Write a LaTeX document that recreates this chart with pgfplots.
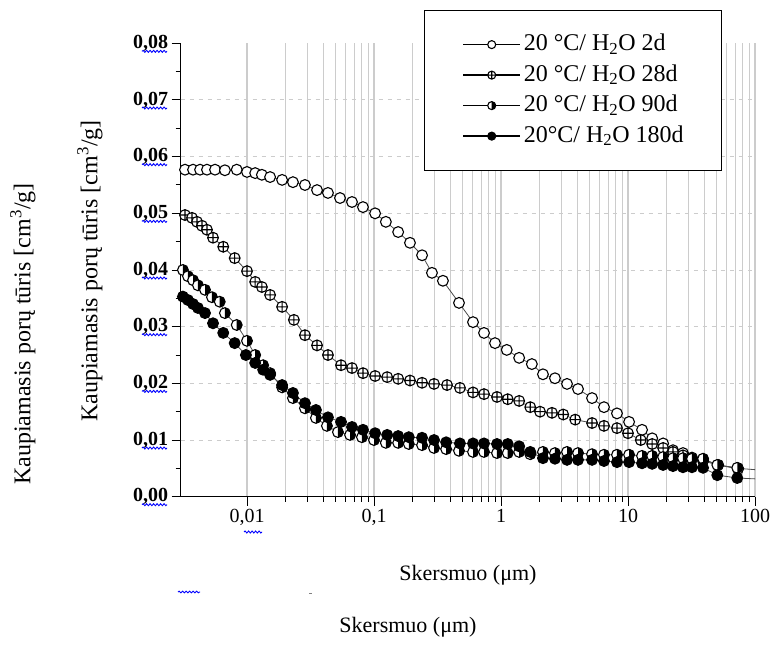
\documentclass[border=0pt]{standalone}
\usepackage{fontspec}
\setmainfont{Liberation Serif}
\usepackage{pgfplots}
\pgfplotsset{compat=1.18}
\usetikzlibrary{decorations.pathmorphing}

\pgfdeclareplotmark{halfright}{%
  \begin{pgfscope}
  \pgfsetfillcolor{white}
  \pgfpathcircle{\pgfpointorigin}{\pgfplotmarksize}\pgfusepath{fill}
  \pgfsetfillcolor{black}
  \pgfpathmoveto{\pgfpoint{0pt}{\pgfplotmarksize}}
  \pgfpatharc{90}{-90}{\pgfplotmarksize}
  \pgfpathclose
  \pgfusepath{fill}
  \end{pgfscope}
  \pgfpathcircle{\pgfpointorigin}{\pgfplotmarksize}\pgfusepath{stroke}
}

\begin{document}
\begin{tikzpicture}[x=1pt,y=1pt]
\useasboundingbox (0,0) rectangle (771,649);
\begin{axis}[
  at={(180.6pt,152.3pt)}, anchor=south west,
  scale only axis, width=574.4pt, height=453.4pt,
  xmode=log, xmin=0.003, xmax=100, ymin=0, ymax=0.08,
  scaled y ticks=false,
  axis x line*=bottom, axis y line*=left,
  axis line style={-, line width=1.3pt},
  tick align=outside,
  major tick length=9pt, minor tick length=5pt,
  every tick/.style={black, line width=1pt},
  xtick={0.01,0.1,1,10,100},
  xticklabels={{0,01},{0,1},1,10,100},
  ytick={0,0.01,0.02,0.03,0.04,0.05,0.06,0.07,0.08},
  yticklabels={{0,00},{0,01},{0,02},{0,03},{0,04},{0,05},{0,06},{0,07},{0,08}},
  minor y tick num=1,
  xminorgrids=true, xmajorgrids=true,
  minor x grid style={gray!40, line width=1.2pt},
  major x grid style={gray!40, line width=1.2pt},
  extra y ticks={0.01,0.02,0.03,0.04,0.05,0.06,0.07},
  extra y tick labels={},
  extra y tick style={ymajorgrids=true, major tick length=0pt, major grid style={gray!40, line width=1pt, dash pattern=on 4pt off 5pt}},
  x tick label style={font=\fontsize{20}{20}\selectfont},
  y tick label style={font=\bfseries\fontsize{20}{20}\selectfont},
  legend style={at={(axis description cs:0.4237,1.0734)}, anchor=north west,
    draw=black, line width=1.2pt, fill=white, inner xsep=38pt, inner ysep=22pt,
    row sep=6.5pt, column sep=3pt,
    font=\fontsize{24}{24}\selectfont,
    nodes={inner sep=0pt, text height=18pt, text depth=6pt}},
  legend cell align=left,
  legend image code/.code={\draw[mark repeat=2,mark phase=2,#1,black,line width=1.3pt,mark size=4pt] plot coordinates {(0pt,0pt) (28.5pt,0pt) (57pt,0pt)};},
]
\addplot[black!70, line width=0.8pt, mark size=5.4pt, mark=*, mark options={draw=black, fill=white, line width=1.1pt}] coordinates {
(0.00325,0.0577)(0.00376,0.0577)(0.00427,0.0577)(0.00484,0.0577)(0.0056,0.0577)
(0.0067,0.0576)(0.0083,0.0577)(0.0100,0.0573)(0.0116,0.0571)(0.0131,0.0568)
(0.0152,0.0564)(0.0189,0.0559)(0.0230,0.0555)(0.0286,0.0550)(0.0356,0.0541)
(0.0434,0.0536)(0.0540,0.0527)(0.0671,0.0520)(0.0819,0.0511)(0.102,0.0500)
(0.124,0.0485)(0.155,0.0467)(0.192,0.0448)(0.239,0.0426)(0.286,0.0395)
(0.349,0.0381)(0.467,0.0342)(0.602,0.0308)(0.735,0.0289)(0.897,0.0271)
(1.11,0.0259)(1.39,0.0245)(1.75,0.0234)(2.14,0.0216)(2.66,0.0209)
(3.31,0.0199)(4.04,0.0190)(5.21,0.0174)(6.47,0.0158)(8.19,0.0147)
(10.2,0.0132)(12.9,0.0118)(15.5,0.0103)(18.9,0.0094)(22.6,0.0082)
(27.1,0.0077)(31.9,0.0069)(39.0,0.0066)(51.2,0.0056)(73.5,0.0050)};
\addlegendentry{\makebox[160pt][l]{20 °C/ H\textsubscript{2}O 2d}}
\addplot[black!70, line width=0.8pt, mark size=5.4pt, mark=oplus*, mark options={draw=black, fill=white, line width=1.1pt}] coordinates {
(0.00325,0.0497)(0.00369,0.0492)(0.00404,0.0485)(0.00442,0.0478)(0.00484,0.0471)
(0.0054,0.0457)(0.0065,0.0441)(0.0080,0.0421)(0.0100,0.0398)(0.0116,0.0379)
(0.0131,0.0370)(0.0152,0.0356)(0.0189,0.0335)(0.0234,0.0312)(0.0286,0.0285)
(0.0356,0.0267)(0.0434,0.0250)(0.0550,0.0232)(0.0671,0.0227)(0.0819,0.0218)
(0.102,0.0213)(0.127,0.0211)(0.155,0.0208)(0.192,0.0205)(0.239,0.0201)
(0.297,0.0199)(0.376,0.0197)(0.475,0.0192)(0.602,0.0184)(0.735,0.0181)
(0.93,0.0176)(1.13,0.0172)(1.39,0.0169)(1.70,0.0158)(2.03,0.0150)
(2.52,0.0148)(3.09,0.0145)(3.84,0.0136)(5.21,0.0130)(6.47,0.0125)
(8.19,0.0121)(10.0,0.0112)(12.6,0.0100)(15.5,0.0093)(18.9,0.0086)
(22.6,0.0079)(27.1,0.0073)(31.9,0.0067)(39.0,0.0063)(51.2,0.0056)(73.5,0.0049)};
\addlegendentry{\makebox[160pt][l]{20 °C/ H\textsubscript{2}O 28d}}
\addplot[black!70, line width=0.8pt, mark size=5.4pt, mark=halfright, mark options={draw=black, line width=1.1pt}] coordinates {
(0.00313,0.0400)(0.00343,0.0389)(0.00376,0.0382)(0.00411,0.0373)(0.00467,0.0365)
(0.0053,0.0352)(0.0061,0.0344)(0.0067,0.0324)(0.0083,0.0303)(0.0100,0.0275)
(0.0116,0.0250)(0.0134,0.0232)(0.0152,0.0218)(0.0189,0.0193)(0.0230,0.0174)
(0.0286,0.0156)(0.0349,0.0139)(0.0426,0.0125)(0.0520,0.0114)(0.0648,0.0109)
(0.0804,0.0105)(0.100,0.0100)(0.124,0.0095)(0.155,0.0095)(0.188,0.0093)
(0.239,0.0091)(0.297,0.0086)(0.370,0.0084)(0.467,0.0081)(0.602,0.0079)
(0.735,0.0079)(0.93,0.0077)(1.13,0.0077)(1.39,0.0079)(1.70,0.0075)
(2.14,0.0079)(2.66,0.0077)(3.31,0.0079)(4.04,0.0077)(5.21,0.0075)
(6.47,0.0074)(8.19,0.0074)(10.2,0.0074)(12.9,0.0072)(15.5,0.0072)
(18.9,0.0070)(22.6,0.0068)(27.1,0.0068)(31.9,0.0067)(39.0,0.0067)
(50.5,0.0056)(72.5,0.0051)};
\addlegendentry{\makebox[160pt][l]{20 °C/ H\textsubscript{2}O 90d}}
\addplot[black!70, line width=0.8pt, mark size=5.4pt, mark=*, mark options={draw=black, fill=black, line width=1.1pt}] coordinates {
(0.00313,0.0353)(0.00343,0.0347)(0.00376,0.0340)(0.00411,0.0333)(0.00467,0.0324)
(0.0054,0.0306)(0.0065,0.0289)(0.0080,0.0271)(0.0098,0.0250)(0.0116,0.0236)
(0.0134,0.0224)(0.0152,0.0215)(0.0189,0.0197)(0.0230,0.0183)(0.0286,0.0165)
(0.0349,0.0153)(0.0434,0.0140)(0.0550,0.0132)(0.0671,0.0123)(0.0819,0.0118)
(0.102,0.0112)(0.127,0.0109)(0.155,0.0107)(0.188,0.0105)(0.239,0.0104)
(0.297,0.0100)(0.370,0.0096)(0.475,0.0094)(0.602,0.0094)(0.735,0.0094)
(0.93,0.0093)(1.13,0.0093)(1.39,0.0089)(1.70,0.0079)(2.14,0.0068)
(2.66,0.0067)(3.31,0.0065)(4.04,0.0065)(5.21,0.0065)(6.47,0.0063)
(8.19,0.0061)(10.2,0.0061)(12.9,0.0059)(15.5,0.0058)(18.9,0.0056)
(22.6,0.0054)(27.1,0.0052)(31.9,0.0052)(39.0,0.0051)(50.5,0.0038)(72.5,0.0033)};
\addlegendentry{\makebox[160pt][l]{20°C/ H\textsubscript{2}O 180d}}
\addplot[forget plot, no marks, black!70, line width=0.8pt] coordinates {(73.5,0.0050)(110,0.0047)};
\addplot[forget plot, no marks, black!70, line width=0.8pt] coordinates {(72.5,0.0033)(110,0.0031)};
\end{axis}
\foreach \k in {0,...,8}{
  \draw[blue, line width=0.9pt, decorate, decoration={snake, amplitude=1pt, segment length=3.5pt}]
    (142,{144.3+56.67*\k}) -- (167,{144.3+56.67*\k});
}
\draw[blue, line width=0.9pt, decorate, decoration={snake, amplitude=1pt, segment length=3.5pt}] (244,117) -- (262,117);
\draw[blue, line width=0.9pt, decorate, decoration={snake, amplitude=0.8pt, segment length=3.5pt}] (178,57) -- (200,57);
\draw[gray, line width=0.8pt] (309,56) -- (312,56);
\node[rotate=90, font=\fontsize{24}{24}\selectfont] at (23,315) {Kaupiamasis porų tūris [cm\textsuperscript{3}/g]};
\node[rotate=90, font=\fontsize{24}{24}\selectfont] at (90,378) {Kaupiamasis porų tūris [cm\textsuperscript{3}/g]};
\node[font=\fontsize{22}{22}\selectfont] at (468,74) {Skersmuo (μm)};
\node[font=\fontsize{22}{22}\selectfont] at (408,22) {Skersmuo (μm)};
\end{tikzpicture}
\end{document}
